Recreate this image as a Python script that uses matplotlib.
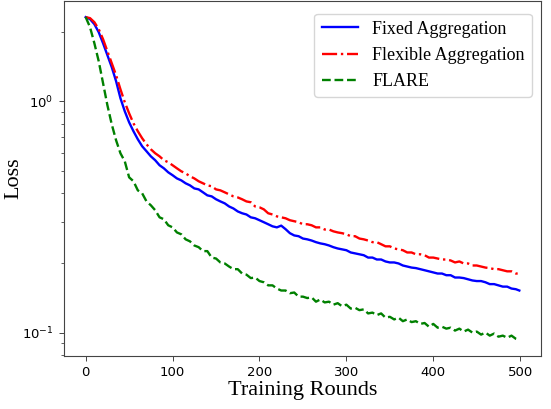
import matplotlib
matplotlib.use('Agg')
import matplotlib.pyplot as plt


# ==================== DATA ====================
ROUNDS = list(range(0, 500, 5)) + [499]

FIXED_LOSS = [
    2.311, 2.265, 2.155, 1.989, 1.782, 1.582, 1.404, 1.221, 1.031, 0.905,
    0.811, 0.742, 0.685, 0.639, 0.608, 0.578, 0.556, 0.529, 0.513, 0.493,
    0.479, 0.464, 0.455, 0.442, 0.433, 0.420, 0.416, 0.404, 0.392, 0.388,
    0.377, 0.369, 0.362, 0.351, 0.344, 0.334, 0.328, 0.324, 0.315, 0.312,
    0.306, 0.300, 0.294, 0.288, 0.285, 0.290, 0.280, 0.269, 0.263, 0.261,
    0.255, 0.253, 0.250, 0.246, 0.243, 0.241, 0.238, 0.234, 0.231, 0.229,
    0.227, 0.222, 0.220, 0.218, 0.216, 0.211, 0.211, 0.207, 0.207, 0.203,
    0.201, 0.201, 0.199, 0.195, 0.193, 0.191, 0.190, 0.188, 0.186, 0.184,
    0.182, 0.180, 0.180, 0.177, 0.177, 0.173, 0.173, 0.172, 0.170, 0.168,
    0.167, 0.167, 0.165, 0.162, 0.162, 0.160, 0.158, 0.158, 0.155, 0.154,
    0.152,
]

FLEXIBLE_LOSS = [
    2.311, 2.288, 2.198, 2.050, 1.855, 1.646, 1.461, 1.296, 1.127, 0.990,
    0.887, 0.803, 0.742, 0.692, 0.652, 0.620, 0.596, 0.578, 0.556, 0.545,
    0.529, 0.513, 0.498, 0.488, 0.474, 0.464, 0.451, 0.442, 0.433, 0.429,
    0.416, 0.412, 0.404, 0.396, 0.388, 0.384, 0.377, 0.369, 0.366, 0.351,
    0.348, 0.341, 0.328, 0.324, 0.318, 0.315, 0.312, 0.306, 0.303, 0.300,
    0.294, 0.294, 0.291, 0.285, 0.285, 0.279, 0.279, 0.274, 0.271, 0.269,
    0.266, 0.261, 0.261, 0.255, 0.253, 0.250, 0.246, 0.246, 0.241, 0.236,
    0.236, 0.231, 0.229, 0.227, 0.222, 0.222, 0.218, 0.218, 0.216, 0.211,
    0.211, 0.209, 0.207, 0.207, 0.205, 0.201, 0.203, 0.199, 0.199, 0.195,
    0.195, 0.193, 0.191, 0.190, 0.188, 0.188, 0.186, 0.184, 0.184, 0.180,
    0.180,
]

FLARE_LOSS = [
    2.311, 2.091, 1.782, 1.490, 1.197, 0.961, 0.795, 0.678, 0.596, 0.550,
    0.469, 0.451, 0.412, 0.400, 0.369, 0.355, 0.338, 0.315, 0.309, 0.291,
    0.285, 0.271, 0.266, 0.253, 0.248, 0.238, 0.234, 0.225, 0.225, 0.211,
    0.209, 0.201, 0.199, 0.193, 0.188, 0.188, 0.180, 0.178, 0.172, 0.173,
    0.167, 0.165, 0.160, 0.160, 0.155, 0.152, 0.152, 0.148, 0.149, 0.143,
    0.143, 0.141, 0.142, 0.136, 0.139, 0.135, 0.136, 0.132, 0.134, 0.130,
    0.132, 0.127, 0.128, 0.125, 0.126, 0.121, 0.122, 0.119, 0.121, 0.116,
    0.117, 0.114, 0.116, 0.112, 0.114, 0.111, 0.112, 0.109, 0.110, 0.106,
    0.109, 0.105, 0.106, 0.104, 0.105, 0.102, 0.104, 0.101, 0.103, 0.100,
    0.101, 0.098, 0.100, 0.097, 0.099, 0.096, 0.097, 0.095, 0.097, 0.094,
    0.093,
]

SERIES = [
    ('Fixed Aggregation', FIXED_LOSS, 'blue', '-'),
    ('Flexible Aggregation', FLEXIBLE_LOSS, 'red', '-.'),
    ('FLARE', FLARE_LOSS, 'green', '--'),
]

# ==================== STYLE ====================
SERIF = ['Liberation Serif', 'DejaVu Serif']
FIG_W, FIG_H, DPI = 5.51, 4.09, 100


fig = plt.figure(figsize=(FIG_W, FIG_H), dpi=DPI)
ax = fig.add_axes([64 / 551, 53 / 409, 477 / 551, 355 / 409])

for label, values, color, style in SERIES:
    ax.plot(ROUNDS, values, linestyle=style, color=color, linewidth=1.7, label=label)

ax.set_yscale('log')
ax.set_xticks([0, 100, 200, 300, 400, 500])
ax.tick_params(labelsize=9.5, color='#444444', width=0.7, pad=4)
ax.tick_params(which='minor', color='#444444', width=0.6)
for spine in ax.spines.values():
    spine.set_color('#444444')
    spine.set_linewidth(0.8)

ax.set_xlabel('Training Rounds', fontsize=16, family=SERIF, labelpad=1)
ax.set_ylabel('Loss', fontsize=16, family=SERIF, labelpad=-1)

ax.legend(loc='upper right', bbox_to_anchor=(1.0, 0.99),
          prop={'family': SERIF, 'size': 13})

fig.savefig('out.png', dpi=DPI)
